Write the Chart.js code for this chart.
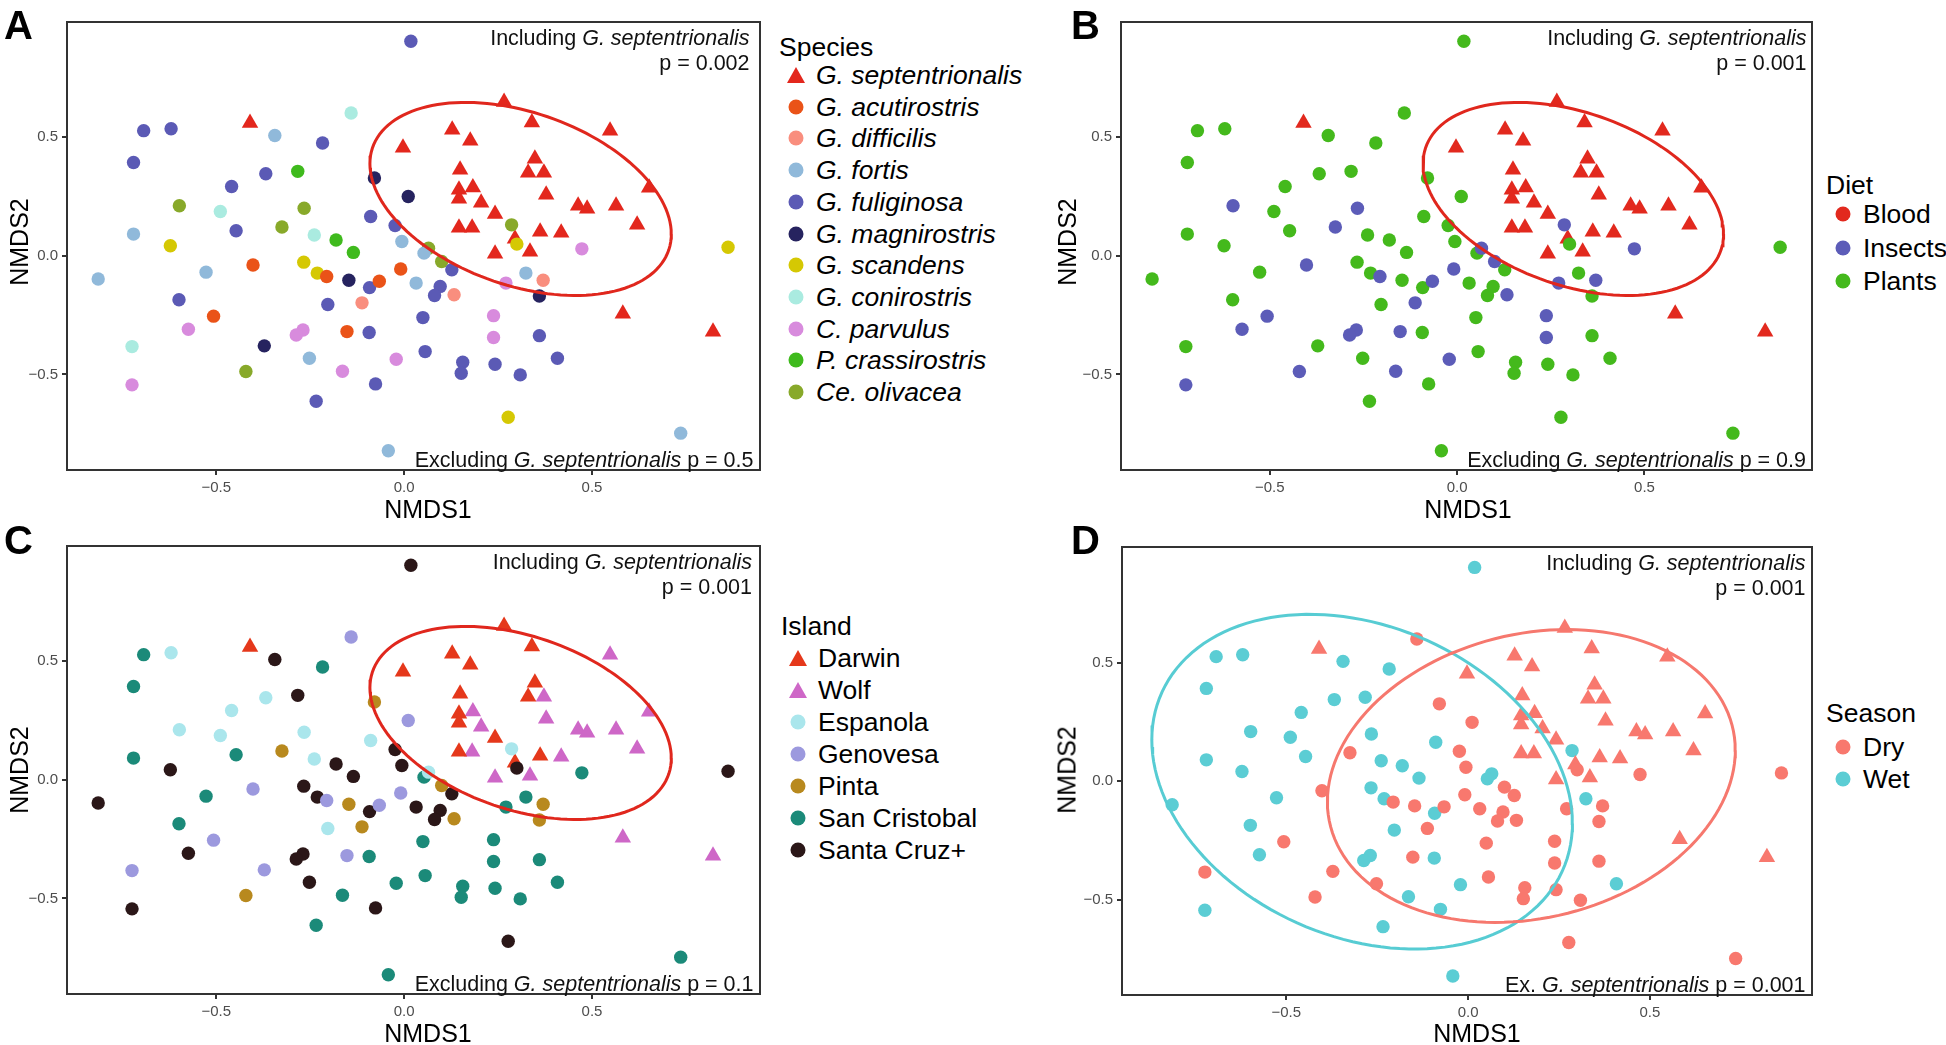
<!DOCTYPE html>
<html>
<head>
<meta charset="utf-8">
<script src="https://cdn.jsdelivr.net/npm/chart.js@4.4.1/dist/chart.umd.min.js"></script>
<style>
  body { margin: 0; background: #fff; width: 1946px; height: 1045px; position: relative; overflow: hidden;
         font-family: "Liberation Sans", Arial, sans-serif; color: #000; }
  canvas { position: absolute; }
  .letter { position: absolute; font-weight: bold; font-size: 40px; line-height: 1; }
  .axt { position: absolute; font-size: 25px; line-height: 1; white-space: nowrap; transform: translate(-50%, -50%); }
  .axt.rot { transform: translate(-50%, -50%) rotate(-90deg); }
  .lg { position: absolute; font-size: 26.5px; line-height: 1; white-space: nowrap; transform: translateY(-50%); }
  .mk { position: absolute; transform: translate(-50%, -50%); }
</style>
</head>
<body>
<script>
// ---- data ----
const speciesNames = ['G. septentrionalis', 'G. acutirostris', 'G. difficilis', 'G. fortis', 'G. fuliginosa',
  'G. magnirostris', 'G. scandens', 'G. conirostris', 'C. parvulus', 'P. crassirostris', 'Ce. olivacea'];
const speciesColors = ['#E3271D', '#EA5318', '#F98E7E', '#90B9DA', '#5B5AB5', '#26235F', '#D5C803',
  '#AAEBE0', '#D88BDD', '#3FBA1D', '#88A92A'];
const dietNames = ['Blood', 'Insects', 'Plants'];
const dietColors = ['#E2291E', '#5C5CB8', '#44B91C'];
const speciesDiet = [0, 1, 1, 2, 2, 2, 2, 2, 1, 2, 1];
const islandNames = ['Darwin', 'Wolf', 'Espanola', 'Genovesa', 'Pinta', 'San Cristobal', 'Santa Cruz+'];
const islandColors = ['#E5381B', '#CE67C7', '#AAE6EC', '#9C99DE', '#B8891E', '#1B8A79', '#2B1718'];
const seasonNames = ['Dry', 'Wet'];
const seasonColors = ['#F8786E', '#5BCDD4'];

const nmds1 = [
  -0.410, 0.266, 0.128, 0.176, 0.340, 0.548, -0.003, 0.149, 0.348, 0.330, 0.372, 0.146, 0.183, 0.146, 0.205, 0.242,
  0.378, 0.652, 0.463, 0.487, 0.564, 0.620, 0.146, 0.181, 0.362, 0.418, 0.295, 0.242, 0.335, 0.582, 0.822,
  -0.693, -0.620, -0.344, -0.141, -0.217, -0.720, -0.368, -0.283, -0.459, -0.079, 0.011, -0.598, -0.489, -0.266,
  -0.089, -0.447, -0.325, -0.239, -0.181, -0.024, -0.720, -0.135, -0.006, -0.622, -0.402, -0.267, -0.231, -0.206,
  -0.147, -0.066, -0.009, -0.092, -0.814, -0.527, -0.599, -0.203, -0.112, -0.507, -0.574, -0.269, -0.287, -0.152,
  -0.093, -0.724, -0.372, -0.252, -0.021, -0.164, -0.421, -0.724, -0.076, -0.234, -0.042, 0.018, 0.286, 0.065,
  0.053, 0.100, 0.127, 0.300, 0.473, 0.862, 0.032, 0.096, 0.081, 0.133, 0.324, 0.271, 0.370, 0.360, 0.050, 0.238,
  0.238, 0.360, 0.056, 0.156, 0.152, 0.242, 0.309, 0.408, 0.277, 0.736];
const nmds2 = [
  0.557, 0.646, 0.529, 0.483, 0.559, 0.525, 0.453, 0.361, 0.407, 0.348, 0.348, 0.277, 0.286, 0.239, 0.222, 0.175,
  0.255, 0.285, 0.209, 0.197, 0.209, 0.129, 0.117, 0.117, 0.100, 0.096, 0.070, 0.007, 0.016, -0.245, -0.321,
  0.525, 0.533, 0.505, 0.599, 0.473, 0.391, 0.344, 0.354, 0.290, 0.326, 0.248, 0.209, 0.185, 0.199,
  0.164, 0.104, 0.120, 0.086, 0.065, 0.126, 0.090, 0.013, 0.059, 0.041, -0.040, -0.028, -0.074, -0.088,
  -0.104, -0.108, -0.057, -0.135, -0.099, -0.070, -0.186, -0.206, -0.199, -0.255, -0.310, -0.313, -0.334, -0.320,
  -0.324, -0.383, -0.380, -0.432, -0.436, -0.487, -0.488, -0.544, -0.540, -0.613, -0.821, 0.901, 0.129, 0.031,
  0.010, -0.025, -0.060, 0.048, 0.028, 0.035, -0.116, -0.130, -0.168, -0.165, -0.074, -0.116, -0.104, -0.170, -0.261, -0.253,
  -0.345, -0.337, -0.404, -0.449, -0.495, -0.457, -0.502, -0.432, -0.680, -0.747];
const species = [
  0, 0, 0, 0, 0, 0, 0, 0, 0, 0, 0, 0, 0, 0, 0, 0, 0, 0, 0, 0, 0, 0, 0, 0, 0, 0, 0, 0, 0, 0, 0,
  4, 4, 3, 7, 4, 4, 4, 9, 4, 5, 5, 10, 7, 10, 4, 4, 10, 7, 9, 4, 3, 9, 3, 6, 1, 6, 6, 1,
  5, 1, 1, 4, 3, 3, 4, 4, 2, 1, 8, 8, 8, 1, 4, 7, 5, 3, 8, 8, 10, 8, 4, 4, 3, 4, 10, 10,
  3, 10, 4, 6, 8, 6, 3, 4, 4, 2, 3, 8, 2, 5, 4, 8, 8, 4, 4, 4, 4, 4, 4, 4, 6, 3];
const island = [
  0, 0, 0, 0, 0, 1, 0, 0, 0, 0, 1, 0, 1, 0, 1, 0, 1, 1, 1, 1, 1, 1, 0, 1, 0, 1, 0, 1, 1, 1, 1,
  5, 2, 6, 3, 5, 5, 2, 6, 2, 4, 3, 2, 2, 2, 2, 5, 4, 2, 6, 6, 5, 6, 6, 6, 3, 6, 6, 3,
  4, 3, 3, 6, 6, 5, 5, 2, 4, 3, 6, 6, 6, 3, 5, 3, 3, 6, 5, 5, 4, 6, 6, 5, 5, 6, 2, 2,
  5, 4, 6, 6, 5, 6, 6, 6, 6, 4, 5, 5, 4, 4, 5, 5, 5, 5, 5, 5, 5, 5, 5, 5, 6, 5];
const season = [
  0, 0, 0, 0, 0, 0, 0, 0, 0, 0, 0, 0, 0, 0, 0, 0, 0, 0, 0, 0, 0, 0, 0, 0, 0, 0, 0, 0, 0, 0, 0,
  1, 1, 1, 0, 1, 1, 1, 1, 1, 0, 0, 1, 1, 1, 1, 1, 0, 1, 1, 0, 1, 1, 0, 1, 0, 1, 1, 0,
  0, 0, 0, 1, 1, 1, 1, 1, 0, 0, 1, 1, 1, 0, 1, 0, 0, 0, 1, 1, 0, 1, 1, 1, 1, 1, 1, 1,
  1, 0, 0, 0, 0, 0, 0, 0, 0, 0, 1, 0, 0, 0, 0, 0, 0, 0, 0, 0, 0, 0, 0, 1, 0, 0];

const tickValues = [-0.5, 0, 0.5];
const tickLabels = ['\u22120.5', '0.0', '0.5'];

// 95% ellipses (centre + shape factors estimated from the figure)
const sepEllipse = { cx: 0.31, cy: 0.238, a: 0.401, b: -0.148, c: 0.378, color: '#E0271D' };
const dryEllipse = { cx: 0.174, cy: 0.022, a: 0.561, b: 0.108, c: 0.6075, color: '#F6786E' };
const wetEllipse = { cx: -0.2915, cy: -0.002, a: 0.5785, b: -0.176, c: 0.683, color: '#57CCD3' };

function ellipsePoints(e) {
  const pts = [];
  for (let k = 0; k <= 140; k++) {
    const t = 2 * Math.PI * k / 140;
    pts.push({ x: e.cx + e.a * Math.cos(t), y: e.cy + e.b * Math.cos(t) + e.c * Math.sin(t) });
  }
  return pts;
}

function drawRuns(ctx, runs, right, base) {
  const fontFor = it => (it ? 'italic ' : '') + '21.5px "Liberation Sans", Arial, sans-serif';
  let w = 0;
  runs.forEach(([s, it]) => { ctx.font = fontFor(it); w += ctx.measureText(s).width; });
  let x = right - w;
  runs.forEach(([s, it]) => { ctx.font = fontFor(it); ctx.fillText(s, x, base); x += ctx.measureText(s).width; });
}

const framePlugin = {
  id: 'frame',
  afterDraw(chart, args, o) {
    const { ctx, chartArea: a } = chart;
    ctx.save();
    ctx.strokeStyle = '#333';
    ctx.lineWidth = 2;
    ctx.strokeRect(a.left, a.top, a.right - a.left, a.bottom - a.top);
    ctx.fillStyle = '#111';
    ctx.textBaseline = 'alphabetic';
    drawRuns(ctx, [['Including ', false], ['G. septentrionalis', true]], a.right - o.inset, a.top + 23);
    drawRuns(ctx, [[o.p, false]], a.right - o.inset, a.top + 47.5);
    drawRuns(ctx, o.bottom, a.right - o.insetB, a.bottom - 3);
    ctx.restore();
  }
};

const panels = [
  { left: 0, top: 0, w: 761, xMin: -0.897, xMax: 0.947, yMin: -0.902, yMax: 0.982,
    names: speciesNames, colors: speciesColors, groupOf: i => species[i], ellipses: [sepEllipse],
    legendTri: [true], italic: true, title: 'Species', lx: 779, ly: 47, l0: 75, step: 31.7,
    p: 'p = 0.002', inset: 10.5, insetB: 6.5,
    bottom: [['Excluding ', false], ['G. septentrionalis', true], [' p = 0.5', false]] },
  { left: 1054, top: 0, w: 759, xMin: -0.897, xMax: 0.947, yMin: -0.902, yMax: 0.982,
    names: dietNames, colors: dietColors, groupOf: i => speciesDiet[species[i]], ellipses: [sepEllipse],
    legendTri: [], italic: false, title: 'Diet', lx: 1826, ly: 185, l0: 214, step: 33.5,
    p: 'p = 0.001', inset: 5.5, insetB: 6,
    bottom: [['Excluding ', false], ['G. septentrionalis', true], [' p = 0.9', false]] },
  { left: 0, top: 524, w: 761, xMin: -0.897, xMax: 0.947, yMin: -0.902, yMax: 0.982,
    names: islandNames, colors: islandColors, groupOf: i => island[i], ellipses: [sepEllipse],
    legendTri: [true, true], italic: false, title: 'Island', lx: 781, ly: 626, l0: 658, step: 32,
    p: 'p = 0.001', inset: 8, insetB: 6.5,
    bottom: [['Excluding ', false], ['G. septentrionalis', true], [' p = 0.1', false]] },
  { left: 1055, top: 525, w: 758, xMin: -0.952, xMax: 0.946, yMin: -0.901, yMax: 0.987,
    names: seasonNames, colors: seasonColors, groupOf: i => season[i], ellipses: [dryEllipse, wetEllipse],
    legendTri: [], italic: false, title: 'Season', lx: 1826, ly: 713, l0: 747, step: 31.7,
    p: 'p = 0.001', inset: 6.5, insetB: 6.5,
    bottom: [['Ex. ', false], ['G. septentrionalis', true], [' p = 0.001', false]] }
];

function axisOpts(min, max, isY) {
  return {
    type: 'linear', min, max,
    afterBuildTicks: ax => { ax.ticks = tickValues.map(v => ({ value: v })); },
    afterFit: ax => {
      if (isY) ax.width = 67; else ax.height = 30;
      ax.paddingLeft = 0; ax.paddingRight = 0; ax.paddingTop = 0; ax.paddingBottom = 0;
    },
    ticks: { color: '#4D4D4D', font: { size: 15, family: '"Liberation Sans", Arial' }, padding: 4,
             callback: v => tickLabels[tickValues.indexOf(v)] },
    grid: { display: true, drawOnChartArea: false, drawTicks: true, tickLength: 5, color: '#333', lineWidth: 2 },
    border: { display: false }
  };
}

panels.forEach(p => {
  const canvas = document.createElement('canvas');
  canvas.width = p.w;
  canvas.height = 500;
  canvas.style.left = p.left + 'px';
  canvas.style.top = p.top + 'px';
  document.body.appendChild(canvas);

  const datasets = [];
  p.names.forEach((name, g) => {
    const idx = nmds1.map((_, i) => i).filter(i => p.groupOf(i) === g);
    datasets.push({
      label: name,
      data: idx.map(i => ({ x: nmds1[i], y: nmds2[i] })),
      pointStyle: idx.map(i => species[i] === 0 ? 'triangle' : 'circle'),
      pointRadius: idx.map(i => species[i] === 0 ? 9.5 : 6.7),
      backgroundColor: p.colors[g],
      pointBorderWidth: 0,
      order: idx.every(i => species[i] === 0) ? 2 : 1
    });
  });
  p.ellipses.forEach(e => datasets.push({
    label: 'ellipse', data: ellipsePoints(e), showLine: true, pointRadius: 0,
    borderColor: e.color, borderWidth: 3, fill: false, order: 0
  }));

  new Chart(canvas, {
    type: 'scatter',
    data: { datasets },
    options: {
      responsive: false,
      animation: false,
      layout: { autoPadding: false, padding: { top: 22, right: 1, left: 0, bottom: 0 } },
      scales: { x: axisOpts(p.xMin, p.xMax, false), y: axisOpts(p.yMin, p.yMax, true) },
      plugins: { legend: { display: false }, tooltip: { enabled: false },
                 frame: { p: p.p, inset: p.inset, insetB: p.insetB, bottom: p.bottom } }
    },
    plugins: [framePlugin]
  });

  // legend
  const t = document.createElement('div');
  t.className = 'lg';
  t.textContent = p.title;
  t.style.left = p.lx + 'px';
  t.style.top = p.ly + 'px';
  document.body.appendChild(t);
  p.names.forEach((name, g) => {
    const y = p.l0 + g * p.step;
    const m = document.createElement('div');
    m.className = 'mk';
    m.style.left = (p.lx + 17) + 'px';
    m.style.top = y + 'px';
    if (p.legendTri[g]) {
      m.style.width = '18px'; m.style.height = '16px';
      m.style.clipPath = 'polygon(50% 0, 100% 100%, 0 100%)';
    } else {
      m.style.width = '15px'; m.style.height = '15px'; m.style.borderRadius = '50%';
    }
    m.style.background = p.colors[g];
    document.body.appendChild(m);
    const l = document.createElement('div');
    l.className = 'lg';
    l.textContent = name;
    if (p.italic) l.style.fontStyle = 'italic';
    l.style.left = (p.lx + 37) + 'px';
    l.style.top = y + 'px';
    document.body.appendChild(l);
  });
});

// panel letters and axis titles
[['A', 4, 5], ['B', 1071, 5], ['C', 4, 520], ['D', 1071, 520]].forEach(([s, x, y]) => {
  const d = document.createElement('div');
  d.className = 'letter'; d.textContent = s; d.style.left = x + 'px'; d.style.top = y + 'px';
  document.body.appendChild(d);
});
[['NMDS1', 428, 509, false], ['NMDS1', 1468, 509, false], ['NMDS1', 428, 1033, false], ['NMDS1', 1477, 1033, false],
 ['NMDS2', 19, 242, true], ['NMDS2', 1067, 242, true], ['NMDS2', 19, 770, true], ['NMDS2', 1067, 770, true]]
  .forEach(([s, x, y, r]) => {
    const d = document.createElement('div');
    d.className = 'axt' + (r ? ' rot' : ''); d.textContent = s; d.style.left = x + 'px'; d.style.top = y + 'px';
    document.body.appendChild(d);
  });
</script>
</body>
</html>
